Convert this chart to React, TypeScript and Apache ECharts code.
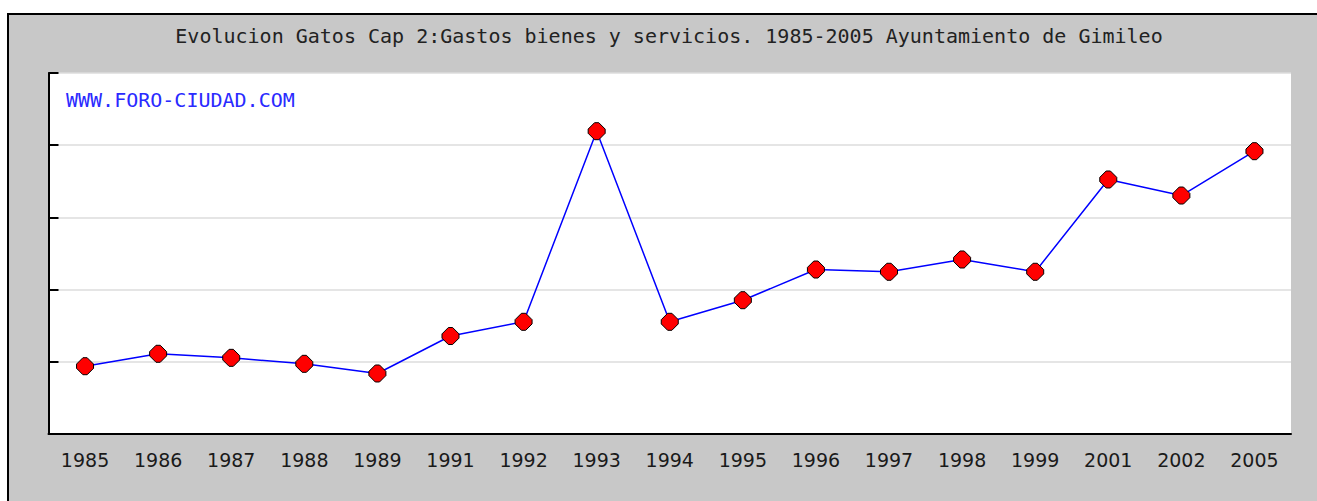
import React, { useEffect, useRef } from "react";
import * as echarts from "echarts";

const TITLE = "Evolucion Gatos Cap 2:Gastos bienes y servicios. 1985-2005 Ayuntamiento de Gimileo";
const WATERMARK = "WWW.FORO-CIUDAD.COM";
const years = ["1985", "1986", "1987", "1988", "1989", "1991", "1992", "1993", "1994", "1995", "1996", "1997", "1998", "1999", "2001", "2002", "2005"];
const gastos = [93.9, 111.1, 105.5, 97.2, 83.8, 135.7, 155.4, 419.4, 155.4, 185.3, 227.8, 224.7, 241.7, 224.7, 352.5, 330.3, 391.7];

const W = 1310;
const H = 488;

export default function App() {
  const ref = useRef<HTMLDivElement>(null);
  useEffect(() => {
    if (!ref.current) return;
    const chart = echarts.init(ref.current, undefined, { renderer: "svg" });
    chart.setOption({
      animation: false,
      backgroundColor: "#c8c8c8",
      grid: {
        left: 41.5,
        right: 26,
        top: 60,
        bottom: 67,
        show: true,
        backgroundColor: "#ffffff",
        borderWidth: 0,
      },
      xAxis: {
        type: "category",
        data: years,
        boundaryGap: true,
        axisLine: { lineStyle: { color: "#000", width: 2 } },
        axisTick: { inside: true, length: 10, alignWithLabel: true, lineStyle: { color: "#000", width: 2 } },
        axisLabel: { color: "#1a1a1a", fontFamily: "DejaVu Sans", fontSize: 19, margin: 16 },
        splitLine: { show: false },
      },
      yAxis: {
        type: "value",
        min: 0,
        max: 500,
        interval: 100,
        axisLine: { show: true, lineStyle: { color: "#000", width: 2 } },
        axisTick: { show: true, inside: true, length: 10, lineStyle: { color: "#000", width: 2 } },
        axisLabel: { show: false },
        splitLine: { show: true, lineStyle: { color: "#dcdcdc", width: 1.5 } },
      },
      series: [
        {
          type: "line",
          data: gastos,
          symbol: "path://M6,0 L10,0 L16,6 L16,10 L10,16 L6,16 L0,10 L0,6 Z",
          symbolSize: 17,
          itemStyle: { color: "#ff0000", borderColor: "#000", borderWidth: 1 },
          lineStyle: { color: "#0000ff", width: 1.5 },
          z: 3,
        },
      ],
      graphic: [
        { type: "rect", shape: { x: 0, y: 0, width: W, height: 2 }, style: { fill: "#000" }, z: 10 },
        { type: "rect", shape: { x: 0, y: 0, width: 2, height: H }, style: { fill: "#000" }, z: 10 },
        {
          type: "text",
          x: 662,
          y: 23,
          style: {
            text: TITLE,
            fill: "#222",
            font: "20px 'DejaVu Sans Mono'",
            textAlign: "center",
            textVerticalAlign: "middle",
          },
          z: 10,
        },
        {
          type: "text",
          x: 59,
          y: 87,
          style: {
            text: WATERMARK,
            fill: "#2a2aff",
            font: "20px 'DejaVu Sans Mono'",
            textAlign: "left",
            textVerticalAlign: "middle",
          },
          z: 10,
        },
      ],
    });
    return () => chart.dispose();
  }, []);
  return (
    <div
      ref={ref}
      style={{ position: "fixed", left: 7, top: 13, width: W, height: H }}
    />
  );
}
